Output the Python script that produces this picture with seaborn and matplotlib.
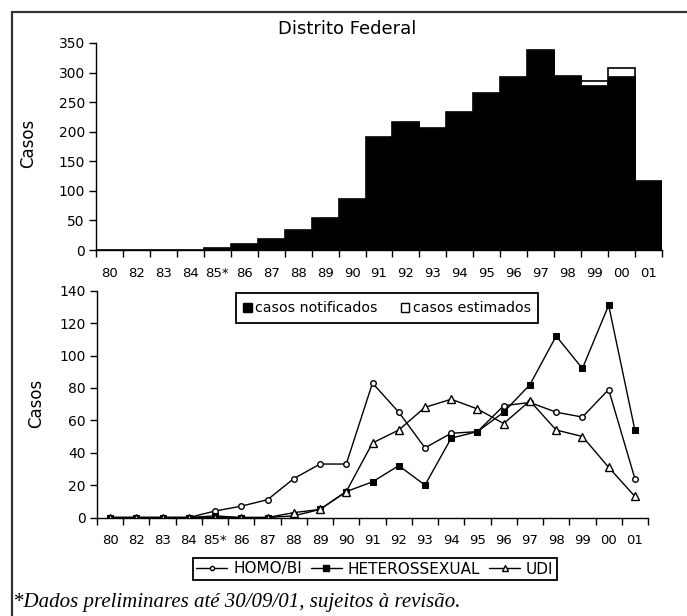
import numpy as np
import pandas as pd
import matplotlib
matplotlib.use("Agg")
import matplotlib.pyplot as plt
from matplotlib.lines import Line2D
from matplotlib.patches import Patch
import seaborn as sns

# Anos de diagnóstico
anos = ["80", "82", "83", "84", "85*", "86", "87", "88", "89", "90", "91",
        "92", "93", "94", "95", "96", "97", "98", "99", "00", "01"]

# Casos de AIDS por ano: notificados e estimados (atraso de notificação)
notificados = [0, 0, 0, 0, 3, 10, 18, 34, 54, 86, 191,
               217, 207, 234, 265, 292, 339, 295, 279, 295, 116]
estimados = [0, 0, 0, 0, 0, 0, 0, 0, 0, 0, 0,
             0, 0, 0, 0, 0, 0, 0, 7, 13, 0]

# Casos por categoria de exposição
homo_bi = [0, 0, 0, 0, 4, 7, 11, 24, 33, 33, 83,
           65, 43, 52, 53, 69, 71, 65, 62, 79, 24]
hetero = [0, 0, 0, 0, 1, 0, 0, 1, 5, 16, 22,
          32, 20, 49, 53, 65, 82, 112, 92, 131, 54]
udi = [0, 0, 0, 0, 0, 0, 0, 3, 5, 16, 46,
       54, 68, 73, 67, 58, 72, 54, 50, 31, 13]

titulo = "Distrito Federal"
rotulo_y = "Casos"
nota = "*Dados preliminares até 30/09/01, sujeitos à revisão."

sns.set_style("ticks")
plt.rcParams["font.family"] = ["DejaVu Sans"]
plt.rcParams["axes.linewidth"] = 1.0
for k in ("text.color", "axes.labelcolor", "xtick.color", "ytick.color",
          "axes.edgecolor"):
    plt.rcParams[k] = "black"

W, H = 687, 616
fig = plt.figure(figsize=(W / 100, H / 100), dpi=100)


def rect(x0, x1, y_top, y_bot):
    return [x0 / W, 1 - y_bot / H, (x1 - x0) / W, (y_bot - y_top) / H]


ax1 = fig.add_axes(rect(96, 662, 43, 250))
ax2 = fig.add_axes(rect(97, 648, 290.7, 517.5))

# --- Barras: total (notificados + estimados) em branco, notificados em preto
df_bar = pd.DataFrame({
    "ano": anos,
    "notificados": notificados,
    "total": [n + e for n, e in zip(notificados, estimados)],
})
sns.barplot(data=df_bar, x="ano", y="total", order=anos, color="white",
            edgecolor="black", linewidth=1.2, width=1.0, saturation=1,
            ax=ax1)
sns.barplot(data=df_bar, x="ano", y="notificados", order=anos, color="black",
            edgecolor="black", linewidth=0.5, width=1.0, saturation=1,
            ax=ax1)

# --- Linhas por categoria de exposição
pos = np.arange(len(anos))
sns.lineplot(x=pos, y=homo_bi, color="black", linewidth=1.0, marker="o",
             markersize=4.0, markerfacecolor="white", markeredgecolor="black",
             markeredgewidth=1.0, ax=ax2, label="HOMO/BI")
sns.lineplot(x=pos, y=hetero, color="black", linewidth=1.0, marker="s",
             markersize=5, markerfacecolor="black", markeredgecolor="black",
             ax=ax2, label="HETEROSSEXUAL")
sns.lineplot(x=pos, y=udi, color="black", linewidth=1.0, marker="^",
             markersize=5.5, markerfacecolor="white", markeredgecolor="black",
             markeredgewidth=1.0, ax=ax2, label="UDI")
if ax2.get_legend() is not None:
    ax2.get_legend().remove()


def estilo_eixo(ax, ymax, ystep, label_xy):
    ax.set_xlim(-0.5, len(anos) - 0.5)
    ax.set_ylim(0, ymax)
    ax.set_yticks(np.arange(0, ymax + 1, ystep))
    ax.set_xticks(np.arange(-0.5, len(anos), 1.0))
    ax.set_xticklabels([])
    ax.set_xticks(pos, minor=True)
    ax.set_xticklabels(anos, minor=True)
    ax.tick_params(axis="x", which="major", direction="out", length=5,
                   width=1, color="black")
    ax.tick_params(axis="x", which="minor", length=0, pad=12, labelsize=9.5)
    ax.tick_params(axis="y", direction="out", length=5, width=1, pad=3,
                   labelsize=10, color="black")
    ax.set_xlabel("")
    ax.set_ylabel(rotulo_y, fontsize=12)
    ax.yaxis.set_label_coords(*label_xy)
    for s in ("top", "right"):
        ax.spines[s].set_visible(False)
    ax.set_facecolor("white")


estilo_eixo(ax1, 350, 50, (-0.104, 0.517))
estilo_eixo(ax2, 140, 20, (-0.094, 0.505))

fig.text(347 / W, 1 - 29 / H, titulo, ha="center", va="center", fontsize=13)

# Legenda das barras
h_bar = [Patch(facecolor="black", edgecolor="black", label="casos notificados"),
         Patch(facecolor="white", edgecolor="black", label="casos estimados")]
leg1 = fig.legend(handles=h_bar, loc="center",
                  bbox_to_anchor=(387 / W, 1 - 308 / H), ncol=2,
                  frameon=True, fancybox=False, edgecolor="black",
                  fontsize=10.2, handlelength=0.6, handleheight=0.6,
                  handletextpad=0.25, columnspacing=1.6, borderpad=0.55,
                  framealpha=1)
leg1.get_frame().set_linewidth(1.3)

# Legenda das linhas
h_lin = [Line2D([], [], color="black", lw=1, marker="o", ms=3,
                mfc="white", mec="black", label="HOMO/BI"),
         Line2D([], [], color="black", lw=1, marker="s", ms=4,
                mfc="black", mec="black", label="HETEROSSEXUAL"),
         Line2D([], [], color="black", lw=1, marker="^", ms=4,
                mfc="white", mec="black", label="UDI")]
leg2 = fig.legend(handles=h_lin, loc="center",
                  bbox_to_anchor=(375 / W, 1 - 569 / H), ncol=3,
                  frameon=True, fancybox=False, edgecolor="black",
                  fontsize=11, handlelength=2.0, handletextpad=0.4,
                  columnspacing=0.6, borderpad=0.25, framealpha=1)
leg2.get_frame().set_linewidth(1.3)

fig.text(13 / W, 1 - 603 / H, nota, ha="left", va="center", fontsize=15,
         family=["Liberation Serif", "DejaVu Serif"], fontstyle="italic")

# Moldura (lados superior e esquerdo)
fig.add_artist(Line2D([11.5 / W, 1.0], [1 - 12 / H, 1 - 12 / H],
                      transform=fig.transFigure, color="#333333", lw=1.6))
fig.add_artist(Line2D([11.5 / W, 11.5 / W], [0.0, 1 - 12 / H],
                      transform=fig.transFigure, color="#333333", lw=1.6))

fig.savefig("out.png", dpi=100, facecolor="white")
